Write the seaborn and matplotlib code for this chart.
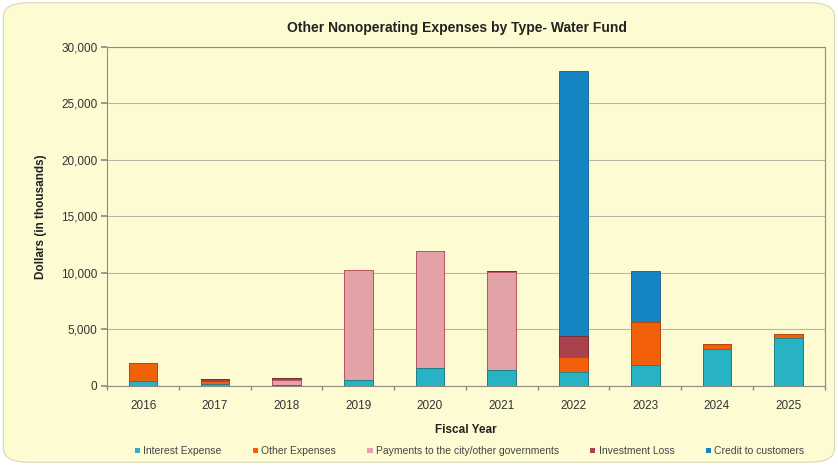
import matplotlib
matplotlib.use("Agg")
import matplotlib.pyplot as plt
from matplotlib.patches import FancyBboxPatch, Patch
from matplotlib.ticker import FuncFormatter, MultipleLocator
import seaborn as sns
import pandas as pd
import numpy as np

years = ["2016", "2017", "2018", "2019", "2020", "2021", "2022", "2023", "2024", "2025"]
interest_expense = [400, 130, 50, 500, 1570, 1400, 1200, 1830, 3280, 4250]
other_expenses = [1600, 350, 0, 0, 0, 0, 1400, 3870, 420, 350]
payments_city = [0, 0, 500, 9800, 10400, 8650, 0, 0, 0, 0]
investment_loss = [0, 170, 120, 0, 0, 150, 1850, 0, 0, 0]
credit_customers = [0, 0, 0, 0, 0, 0, 23450, 4500, 0, 0]

series_names = ["Interest Expense", "Other Expenses", "Payments to the city/other governments",
                "Investment Loss", "Credit to customers"]
series_vals = [interest_expense, other_expenses, payments_city, investment_loss, credit_customers]
colors = ["#27B3C3", "#F2600A", "#E3A2A8", "#A9424C", "#1584C2"]
edges = ["#12808C", "#B84300", "#C0525C", "#7E2630", "#0E5E92"]

sns.set_theme(style="white")
plt.rcParams["font.family"] = ["Liberation Sans", "DejaVu Sans"]

bg = "#FDFBD2"
fig = plt.figure(figsize=(8.38, 4.65), dpi=100)
fig.patch.set_facecolor("white")
fig.patches.append(FancyBboxPatch((0.004, 0.006), 0.992, 0.988, boxstyle="round,pad=0,rounding_size=0.03",
                                  transform=fig.transFigure, facecolor=bg, edgecolor="#D8D6B8",
                                  linewidth=0.8, zorder=-10))
ax = fig.add_axes([0.128, 0.170, 0.856, 0.729])
ax.set_facecolor(bg)

cum = np.cumsum(np.array(series_vals, dtype=float), axis=0)
for i in range(len(series_names) - 1, -1, -1):
    df = pd.DataFrame({"year": years, "value": cum[i]})
    sns.barplot(data=df, x="year", y="value", color=colors[i], edgecolor=edges[i],
                linewidth=0.6, width=0.4, saturation=1, ax=ax, zorder=3)

ax.set_ylim(0, 30000)
ax.set_xlim(-0.5, 9.5)
ax.yaxis.set_major_locator(MultipleLocator(5000))
ax.yaxis.set_major_formatter(FuncFormatter(lambda v, p: f"{int(v):,}"))
ax.grid(axis="y", color="#B8B6A0", linewidth=0.8, zorder=0)
ax.set_axisbelow(True)
for s in ax.spines.values():
    s.set_color("#8E8C80")
    s.set_linewidth(0.8)
ax.tick_params(axis="y", left=True, length=4, color="#8E8C80", labelsize=8.5, labelcolor="#333333", pad=3)
ax.tick_params(axis="x", bottom=False, labelsize=8.5, labelcolor="#333333", pad=4)
ax.set_xticks(np.arange(-0.5, 10, 1), minor=True)
ax.tick_params(axis="x", which="minor", bottom=True, length=3, color="#8E8C80")

ax.set_xlabel("Fiscal Year", fontsize=8.5, fontweight="bold", color="#222222", labelpad=9)
ax.set_ylabel("Dollars (in thousands)", fontsize=8.5, fontweight="bold", color="#222222", labelpad=10)
fig.suptitle("Other Nonoperating Expenses by Type- Water Fund", x=0.545, y=0.955,
             fontsize=10, fontweight="bold", color="#222222")

handles = [Patch(facecolor=c, edgecolor="none") for c in colors]
ax.legend(handles, series_names, loc="upper center", bbox_to_anchor=(0.505, -0.15), ncol=5,
          frameon=False, fontsize=7.5, handlelength=0.5, handleheight=0.5, handletextpad=0.3,
          columnspacing=3.0, labelcolor="#444444")

fig.savefig("out.png", dpi=100, facecolor=fig.get_facecolor())
